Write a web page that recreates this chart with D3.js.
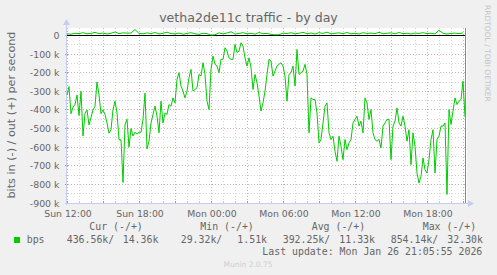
<!DOCTYPE html>
<html>
<head>
<meta charset="utf-8">
<script src="https://cdn.jsdelivr.net/npm/d3@7"></script>
<style>
  html, body { margin: 0; padding: 0; background: #f0f0f0; }
  svg { display: block; }
</style>
</head>
<body>
<div id="chart-container"></div>
<script>
// bits in (-), kbit/s, one reading every 10 min from Sun 12:00
const inKbps = [
  320, 275, 420, 385, 370, 320, 430, 300, 540, 420,
  400, 480, 440, 400, 380, 250, 320, 420, 400, 424,
  470, 525, 506, 398, 353, 415, 560, 560, 790, 480,
  450, 600, 500, 540, 520, 530, 520, 520, 450, 310,
  610, 568, 470, 424, 380, 433, 523, 353, 470, 416,
  424, 371, 380, 335, 362, 236, 200, 272, 299, 335,
  299, 227, 182, 299, 290, 281, 209, 218, 146, 209,
  353, 398, 182, 110, 155, 164, 200, 128, 128, 66,
  84, 120, 128, 128, 48, 92, 84, 39, 57, 120,
  164, 120, 173, 290, 209, 254, 326, 406, 362, 299,
  209, 128, 137, 218, 191, 164, 155, 146, 164, 218,
  353, 209, 200, 164, 272, 75, 209, 200, 191, 155,
  209, 523, 335, 344, 344, 416, 577, 559, 470, 380,
  362, 523, 559, 541, 622, 676, 541, 595, 667, 559,
  613, 577, 559, 470, 451, 433, 487, 460, 523, 335,
  362, 451, 398, 523, 559, 568, 559, 604, 487, 470,
  451, 451, 667, 487, 460, 389, 470, 487, 433, 487,
  568, 506, 694, 523, 595, 739, 793, 757, 658, 721,
  739, 667, 559, 506, 739, 559, 541, 487, 487, 470,
  854, 398, 478, 406, 335, 371, 353, 344, 245, 437
];

// bits out (+), kbit/s, one reading every 20 min from Sun 12:00
const outKbps = [
  9, 7, 12, 10, 15, 9, 11, 17, 10, 13,
  8, 12, 19, 10, 14, 13, 13, 32, 11, 9,
  14, 10, 16, 8, 12, 18, 10, 9, 13, 7,
  11, 15, 9, 6, 12, 10, 2, 4, 14, 9,
  13, 20, 8, 11, 15, 9, 12, 7, 16, 10,
  11, 6, 4, 4, 13, 10, 15, 9, 12, 17,
  10, 13, 8, 15, 11, 18, 9, 12, 14, 10,
  16, 9, 12, 8, 15, 11, 13, 10, 17, 9,
  12, 14, 9, 16, 10, 12, 8, 13, 11, 15,
  10, 12, 9, 28, 12, 8, 11, 13, 10, 14
];

const yTicks = [0, -100, -200, -300, -400, -500, -600, -700, -800, -900];
const yTickLabels = ["0", "-100 k", "-200 k", "-300 k", "-400 k", "-500 k", "-600 k", "-700 k", "-800 k", "-900 k"];
const xTickLabels = ["Sun 12:00", "Sun 18:00", "Mon 00:00", "Mon 06:00", "Mon 12:00", "Mon 18:00"];

const legendHeads = ["Cur (-/+)", "Min (-/+)", "Avg (-/+)", "Max (-/+)"];
const legendValues = ["436.56k/", "14.36k", "29.32k/", "1.51k", "392.25k/", "11.33k", "854.14k/", "32.30k"];

const width = 497;
const height = 275;
const plotLeft = 67;
const plotRight = 467;
const plotTop = 28;
const plotBottom = 203;

const start = new Date(2026, 0, 25, 12, 0);
const HOUR = 3600 * 1000;
const end = new Date(+start + 33.3333 * HOUR);

const x = d3.scaleTime()
    .domain([start, end])
    .range([plotLeft, plotRight]);

const y = d3.scaleLinear()
    .domain([-900, 40.3])
    .range([plotBottom, plotTop]);

const px = v => Math.floor(v) + 0.5;

const svg = d3.select("#chart-container").append("svg")
    .attr("width", width)
    .attr("height", height)
    .attr("viewBox", [0, 0, width, height]);

svg.append("rect")
    .attr("width", width).attr("height", height)
    .attr("fill", "#f0f0f0");

// canvas
svg.append("rect")
    .attr("x", plotLeft).attr("y", plotTop)
    .attr("width", plotRight - plotLeft).attr("height", plotBottom - plotTop)
    .attr("fill", "#ffffff");

// vertical grid: minor every hour, major every 3 hours
const hours = d3.range(0, 34).map(h => new Date(+start + h * HOUR));
svg.append("g")
  .selectAll("line")
  .data(hours)
  .join("line")
    .attr("x1", d => px(x(d))).attr("x2", d => px(x(d)))
    .attr("y1", plotTop).attr("y2", plotBottom)
    .attr("stroke", (d, i) => i % 3 === 0 ? "#e3a9a9" : "#d4d4d4")
    .attr("stroke-width", 1)
    .attr("stroke-dasharray", "1,2");

// horizontal grid: minor every 50k, major every 100k
const yGrid = d3.range(-850, 1, 50);
svg.append("g")
  .selectAll("line")
  .data(yGrid)
  .join("line")
    .attr("x1", plotLeft - 2).attr("x2", plotRight)
    .attr("y1", d => px(y(d))).attr("y2", d => px(y(d)))
    .attr("stroke", d => d % 100 === 0 ? "#e3a9a9" : "#d4d4d4")
    .attr("stroke-width", 1)
    .attr("stroke-dasharray", "1,2");

// tick marks on the axes
svg.append("g")
  .selectAll("line")
  .data(hours)
  .join("line")
    .attr("x1", d => px(x(d))).attr("x2", d => px(x(d)))
    .attr("y1", plotBottom - 2).attr("y2", plotBottom + 1)
    .attr("stroke", (d, i) => i % 3 === 0 ? "#e08080" : "#c8c8c8");

svg.append("g")
  .selectAll("line")
  .data(yTicks.slice(1))
  .join("line")
    .attr("x1", plotLeft - 2).attr("x2", plotLeft + 1)
    .attr("y1", d => px(y(d))).attr("y2", d => px(y(d)))
    .attr("stroke", "#e08080");

// zero rule
svg.append("line")
    .attr("x1", plotLeft).attr("x2", plotRight - 2)
    .attr("y1", px(y(0))).attr("y2", px(y(0)))
    .attr("stroke", "#000");

// right edge rule
svg.append("line")
    .attr("x1", plotRight - 1.5).attr("x2", plotRight - 1.5)
    .attr("y1", plotTop).attr("y2", plotBottom)
    .attr("stroke", "#8a8a8a");

// axes with arrows
const axisColor = "#c6cdf5";
svg.append("line")
    .attr("x1", plotLeft - 0.5).attr("x2", plotLeft - 0.5)
    .attr("y1", plotBottom + 2).attr("y2", plotTop - 5)
    .attr("stroke", axisColor);
svg.append("path")
    .attr("d", `M${plotLeft - 4},${plotTop - 3}L${plotLeft - 0.5},${plotTop - 9}L${plotLeft + 3},${plotTop - 3}Z`)
    .attr("fill", axisColor);
svg.append("line")
    .attr("x1", plotLeft - 2).attr("x2", plotRight + 2)
    .attr("y1", plotBottom + 0.5).attr("y2", plotBottom + 0.5)
    .attr("stroke", axisColor);
svg.append("path")
    .attr("d", `M${plotRight + 1},${plotBottom - 3}L${plotRight + 7},${plotBottom + 0.5}L${plotRight + 1},${plotBottom + 4}Z`)
    .attr("fill", axisColor);

// data lines
const inData = inKbps.map((v, i) => ({ t: new Date(+start + i * 600000), v: -v }));
const outData = outKbps.map((v, i) => ({ t: new Date(+start + i * 1200000), v: v }));

const line = d3.line()
    .x(d => x(d.t))
    .y(d => y(d.v));

svg.append("path")
    .datum(outData)
    .attr("fill", "none")
    .attr("stroke", "#00cc00")
    .attr("stroke-width", 1)
    .attr("d", line);

svg.append("path")
    .datum(inData)
    .attr("fill", "none")
    .attr("stroke", "#00cc00")
    .attr("stroke-width", 1)
    .attr("d", line);

// y tick labels
svg.append("g")
  .selectAll("text")
  .data(yTicks)
  .join("text")
    .attr("x", 59.5)
    .attr("y", d => y(d) + 3.5)
    .attr("text-anchor", "end")
    .attr("font-family", "DejaVu Sans")
    .attr("font-size", 9.4)
    .attr("fill", "#666")
    .text((d, i) => yTickLabels[i]);

// x tick labels every 6 hours
svg.append("g")
  .selectAll("text")
  .data(xTickLabels)
  .join("text")
    .attr("x", (d, i) => x(new Date(+start + i * 6 * HOUR)) + 1)
    .attr("y", 216.5)
    .attr("text-anchor", "middle")
    .attr("font-family", "DejaVu Sans")
    .attr("font-size", 9.3)
    .attr("fill", "#666")
    .text(d => d);

// title
svg.append("text")
    .attr("x", 248.5)
    .attr("y", 22)
    .attr("text-anchor", "middle")
    .attr("font-family", "DejaVu Sans")
    .attr("font-size", 12.6)
    .attr("fill", "#666")
    .text("vetha2de11c traffic - by day");

// vertical unit label
svg.append("text")
    .attr("transform", `translate(15,${(plotTop + plotBottom) / 2 - 0.5}) rotate(-90)`)
    .attr("text-anchor", "middle")
    .attr("font-family", "DejaVu Sans")
    .attr("font-size", 11.2)
    .attr("fill", "#666")
    .text("bits in (-) / out (+) per second");

// watermark
svg.append("text")
    .attr("transform", "translate(485,5) rotate(90)")
    .attr("text-anchor", "start")
    .attr("font-family", "DejaVu Sans")
    .attr("font-size", 7.5)
    .attr("fill", "#c4c4c4")
    .text("RRDTOOL / TOBI OETIKER");

// legend
const mono = "DejaVu Sans Mono";
const headX = [89.3, 200.3, 311.7, 422.7];
svg.append("g")
  .selectAll("text")
  .data(legendHeads)
  .join("text")
    .attr("x", (d, i) => headX[i])
    .attr("y", 229.5)
    .attr("font-family", mono)
    .attr("font-size", 9.9)
    .attr("fill", "#666")
    .text(d => d);

svg.append("rect")
    .attr("x", 14).attr("y", 237)
    .attr("width", 6).attr("height", 6)
    .attr("fill", "#00cc00");

svg.append("text")
    .attr("x", 26.7).attr("y", 243)
    .attr("font-family", mono).attr("font-size", 9.9)
    .attr("fill", "#666")
    .text("bps");

const valX = [66.7, 122.7, 180.7, 237.3, 282.7, 339.3, 390.7, 447.3];
svg.append("g")
  .selectAll("text")
  .data(legendValues)
  .join("text")
    .attr("x", (d, i) => valX[i])
    .attr("y", 243)
    .attr("font-family", mono)
    .attr("font-size", 9.9)
    .attr("fill", "#666")
    .text(d => d);

svg.append("text")
    .attr("x", 482.3).attr("y", 255)
    .attr("text-anchor", "end")
    .attr("font-family", mono).attr("font-size", 9.9)
    .attr("fill", "#666")
    .text("Last update: Mon Jan 26 21:05:55 2026");

svg.append("text")
    .attr("x", 248).attr("y", 266.5)
    .attr("text-anchor", "middle")
    .attr("font-family", "DejaVu Sans").attr("font-size", 7.5)
    .attr("fill", "#cfcfcf")
    .text("Munin 2.0.75");
</script>
</body>
</html>
